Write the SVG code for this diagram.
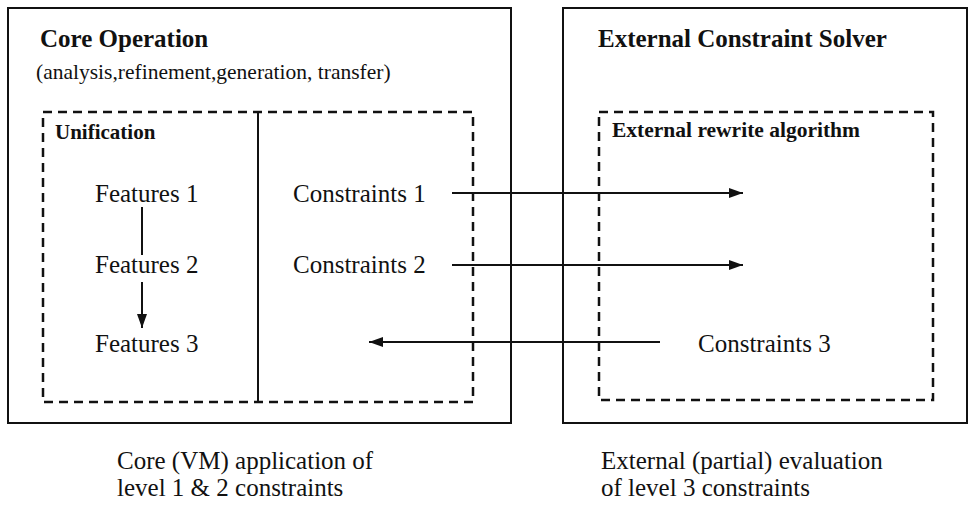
<svg xmlns="http://www.w3.org/2000/svg" width="969" height="506" viewBox="0 0 969 506">
<style>
text{font-family:'Liberation Serif','DejaVu Serif',serif;fill:#111}
.b{font-weight:bold}
.box{fill:none;stroke:#111;stroke-width:2}
.dash{fill:none;stroke:#111;stroke-width:2.5;stroke-dasharray:9 6}
.ln{fill:none;stroke:#111;stroke-width:2}
</style>
<defs>
<marker id="ah" viewBox="0 0 14 10" refX="14" refY="5" markerWidth="14" markerHeight="10" markerUnits="userSpaceOnUse" orient="auto">
<path d="M0,0 L14,5 L0,10 Z" fill="#111"/>
</marker>
</defs>
<rect width="969" height="506" fill="#fff"/>
<g id="core">
<rect class="box" x="8" y="8" width="503" height="415"/>
<text class="b" x="40" y="47" font-size="25">Core Operation</text>
<text x="36" y="79" font-size="21.5">(analysis,refinement,generation, transfer)</text>
</g>
<g id="core-inner">
<rect class="dash" x="43" y="112" width="430" height="290"/>
<line class="ln" x1="258" y1="112" x2="258" y2="402"/>
<text class="b" x="55" y="139" font-size="21">Unification</text>
</g>
<g id="features1"><text x="95" y="202" font-size="25">Features 1</text></g>
<g id="features2"><text x="95" y="273" font-size="25">Features 2</text></g>
<g id="features3"><text x="95" y="352" font-size="25">Features 3</text></g>
<g id="constraints1"><text x="293" y="202" font-size="25">Constraints 1</text></g>
<g id="constraints2"><text x="293" y="273" font-size="25">Constraints 2</text></g>
<g id="solver">
<rect class="box" x="563" y="8" width="404" height="415"/>
<text class="b" x="598" y="47" font-size="25">External Constraint Solver</text>
</g>
<g id="rewrite">
<rect class="dash" x="599" y="112" width="334" height="288"/>
<text class="b" x="612" y="137" font-size="21.5">External rewrite algorithm</text>
</g>
<g id="constraints3"><text x="698" y="352" font-size="25">Constraints 3</text></g>
<g id="connectors">
<line class="ln" x1="142" y1="207" x2="142" y2="255"/>
<line class="ln" x1="142" y1="282" x2="142" y2="328" marker-end="url(#ah)"/>
<line class="ln" x1="452" y1="193" x2="743" y2="193" marker-end="url(#ah)"/>
<line class="ln" x1="452" y1="265" x2="743" y2="265" marker-end="url(#ah)"/>
<line class="ln" x1="660" y1="342" x2="369" y2="342" marker-end="url(#ah)"/>
</g>
<g id="captions">
<text x="117" y="469" font-size="25">Core (VM) application of</text>
<text x="117" y="496" font-size="25">level 1 &amp; 2 constraints</text>
<text x="601" y="469" font-size="25">External (partial) evaluation</text>
<text x="601" y="496" font-size="25">of level 3 constraints</text>
</g>
</svg>
